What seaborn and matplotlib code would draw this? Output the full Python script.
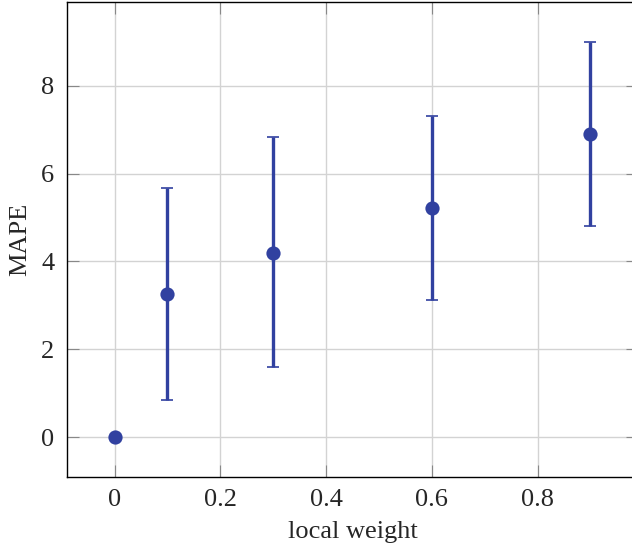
import matplotlib
matplotlib.use("Agg")
import matplotlib.pyplot as plt
import numpy as np
import pandas as pd
import seaborn as sns

# values
local_weight = [0.0, 0.1, 0.3, 0.6, 0.9]
mape = [0.0, 3.27, 4.19, 5.21, 6.90]
mape_low = [0.0, 0.84, 1.59, 3.13, 4.80]
mape_high = [0.0, 5.68, 6.84, 7.30, 8.99]

df = pd.DataFrame({"local weight": local_weight, "MAPE": mape,
                   "low": mape_low, "high": mape_high})

sns.set_style("whitegrid")
plt.rcParams["font.family"] = ["Liberation Serif", "DejaVu Serif"]
plt.rcParams["mathtext.fontset"] = "stix"

col = "#3141A0"

fig = plt.figure(figsize=(6.32, 5.5), dpi=100)
ax = fig.add_axes([67 / 632, 73 / 550, 571 / 632, 475 / 550])

# error bars (skip the zero-width one at x=0)
eb = df[df["high"] > df["low"]]
ax.errorbar(eb["local weight"], eb["MAPE"],
            yerr=[eb["MAPE"] - eb["low"], eb["high"] - eb["MAPE"]],
            fmt="none", ecolor=col, elinewidth=2.4, capsize=4.3, capthick=1.2,
            zorder=3)
sns.scatterplot(data=df, x="local weight", y="MAPE", ax=ax, color=col,
                s=105, edgecolor=col, linewidth=0, zorder=4)

ax.set_xlim(-0.09, 0.99)
ax.set_ylim(-0.9, 9.9)
ax.set_xticks([0, 0.2, 0.4, 0.6, 0.8])
ax.set_xticklabels(["0", "0.2", "0.4", "0.6", "0.8"])
ax.set_yticks([0, 2, 4, 6, 8])

ax.grid(True, color="#d3d3d3", linewidth=1.0)
ax.set_axisbelow(True)
for s in ax.spines.values():
    s.set_color("black")
    s.set_linewidth(1.0)

ax.tick_params(direction="in", length=8.5, width=0.8, color="#888888",
               top=True, right=True, bottom=True, left=True,
               labelsize=19, pad=9)
ax.set_xlabel("local weight", fontsize=19, labelpad=7)
ax.set_ylabel("MAPE", fontsize=19, labelpad=7)

fig.savefig("out.png", dpi=100)
